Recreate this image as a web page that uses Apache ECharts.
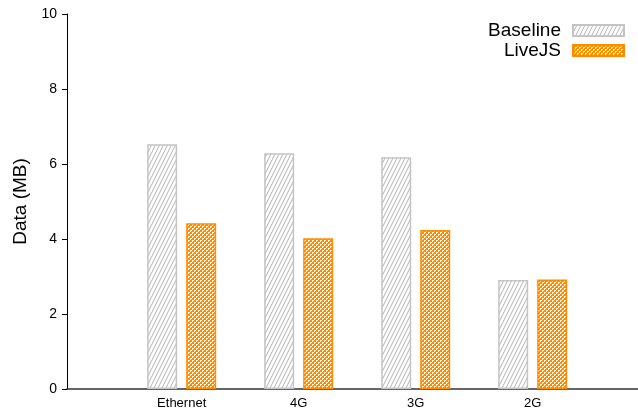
<!DOCTYPE html>
<html>
<head>
<meta charset="utf-8">
<script src="https://cdn.jsdelivr.net/npm/echarts@6/dist/echarts.min.js"></script>
<style>
  html, body { margin: 0; padding: 0; background: #fff; }
  #chart { width: 638px; height: 410px; }
</style>
</head>
<body>
<div id="chart"></div>
<script>
// Network types on the x axis
const categories = ['Ethernet', '4G', '3G', '2G'];
// Data transferred per page load, in MB
const baselineData = [6.53, 6.29, 6.18, 2.91];
const liveJSData = [4.42, 4.02, 4.24, 2.92];
// Y axis tick values
const yTicks = [0, 2, 4, 6, 8, 10];

// Diagonal gray hatching for the baseline bars
function hatchPattern() {
  const c = document.createElement('canvas');
  c.width = 4; c.height = 8;
  const ctx = c.getContext('2d');
  ctx.fillStyle = '#ffffff';
  ctx.fillRect(0, 0, 4, 8);
  ctx.strokeStyle = '#b4b4b4';
  ctx.lineWidth = 1;
  ctx.beginPath();
  for (let k = -1; k <= 1; k++) {
    ctx.moveTo(k * 4, 8);
    ctx.lineTo(k * 4 + 4, 0);
  }
  ctx.stroke();
  return c;
}

// Orange crosshatch fill for the LiveJS bars
function checkerPattern() {
  const c = document.createElement('canvas');
  c.width = 4; c.height = 4;
  const ctx = c.getContext('2d');
  ctx.fillStyle = '#ff8c00';
  ctx.fillRect(0, 0, 4, 4);
  ctx.fillStyle = '#ffffff';
  [[0, 0], [1, 0], [0, 1], [2, 2], [3, 2], [2, 3]].forEach(([x, y]) => ctx.fillRect(x, y, 1, 1));
  return c;
}

const toPoints = arr => arr.map((v, i) => [i, v]);

const chart = echarts.init(document.getElementById('chart'), null, { renderer: 'canvas' });

chart.setOption({
  animation: false,
  backgroundColor: '#ffffff',
  textStyle: { fontFamily: 'Liberation Sans, Arial, sans-serif' },
  grid: { left: 67, right: 0, top: 14, bottom: 21, containLabel: false },
  legend: {
    orient: 'vertical',
    right: 13,
    top: 21,
    padding: 0,
    align: 'right',
    icon: 'rect',
    itemWidth: 51,
    itemHeight: 11,
    itemGap: 1,
    textStyle: { fontSize: 19, color: '#000', padding: [0, 7, 0, 0] },
    data: ['Baseline', 'LiveJS']
  },
  xAxis: {
    type: 'value',
    min: -0.98,
    max: 3.9,
    axisLine: { show: true, onZero: false, lineStyle: { color: '#333', width: 1.5 } },
    axisTick: { show: false },
    splitLine: { show: false },
    axisLabel: {
      customValues: categories.map((_, i) => i),
      formatter: v => categories[Math.round(v)] ?? '',
      fontSize: 13,
      color: '#000',
      margin: 8
    }
  },
  yAxis: {
    type: 'value',
    min: yTicks[0],
    max: yTicks[yTicks.length - 1],
    interval: 2,
    name: 'Data (MB)',
    nameLocation: 'middle',
    nameGap: 36,
    nameTextStyle: { fontSize: 19, color: '#000' },
    axisLine: { show: true, onZero: false, lineStyle: { color: '#000', width: 1 } },
    axisTick: { show: true, length: 5, inside: false, lineStyle: { color: '#000' } },
    splitLine: { show: false },
    axisLabel: { fontSize: 14, color: '#000', margin: 10 }
  },
  series: [
    {
      name: 'Baseline',
      type: 'bar',
      data: toPoints(baselineData),
      barWidth: 30,
      barGap: '30%',
      itemStyle: {
        color: { image: hatchPattern(), repeat: 'repeat' },
        borderColor: '#c4c4c4',
        borderWidth: 1.5
      }
    },
    {
      name: 'LiveJS',
      type: 'bar',
      data: toPoints(liveJSData),
      barWidth: 30,
      barGap: '30%',
      itemStyle: {
        color: { image: checkerPattern(), repeat: 'repeat' },
        borderColor: '#ff8c00',
        borderWidth: 1.5
      }
    }
  ]
});
</script>
</body>
</html>
